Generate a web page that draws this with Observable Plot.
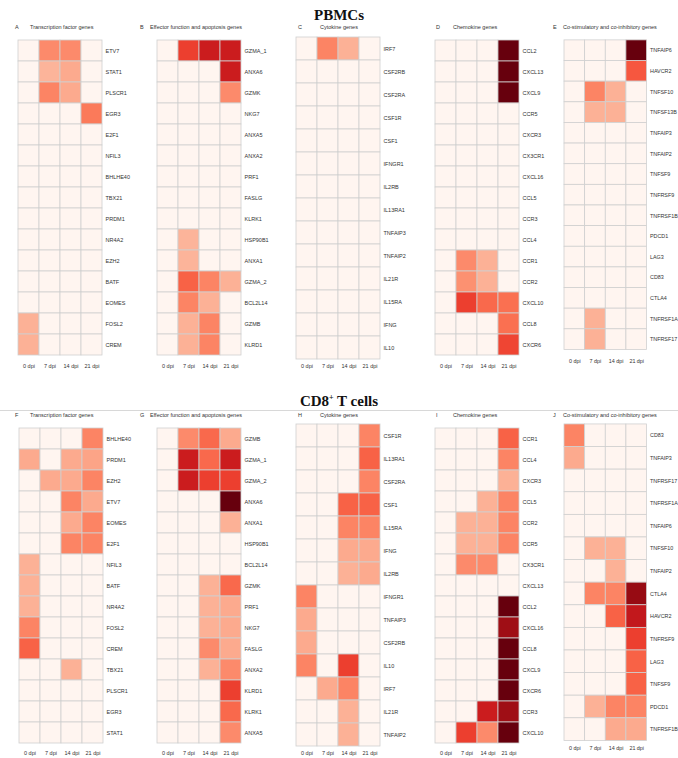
<!DOCTYPE html>
<html><head><meta charset="utf-8">
<script src="https://cdn.jsdelivr.net/npm/d3@7"></script>
<script src="https://cdn.jsdelivr.net/npm/@observablehq/plot@0.6"></script>
<style>
body{margin:0;background:#fff;}
#root{position:relative;width:678px;height:758px;font-family:"Liberation Sans",Arial,sans-serif;overflow:hidden;}
.title{position:absolute;left:0;width:678px;text-align:center;font-family:"Liberation Serif","Times New Roman",serif;font-weight:bold;font-size:15px;line-height:16px;color:#111;}
.hdr{position:absolute;font-size:5.5px;line-height:6px;color:#333;white-space:nowrap;}
.panel{position:absolute;}
.rule{position:absolute;left:0;width:678px;height:0;border-top:1px solid #d8d8d8;}
</style></head>
<body><div id="root"></div>
<script>
const days = ["0 dpi", "7 dpi", "14 dpi", "21 dpi"];

// ---- PBMCs ----
const genesA = ["ETV7","STAT1","PLSCR1","EGR3","E2F1","NFIL3","BHLHE40","TBX21","PRDM1","NR4A2","EZH2","BATF","EOMES","FOSL2","CREM"];
const valsA = [[0,.4,.4,0],[0,.27,.3,0],[0,.42,.3,0],[0,0,0,.45],[0,0,0,0],[0,0,0,0],[0,0,0,0],[0,0,0,0],[0,0,0,0],[0,0,0,0],[0,0,0,0],[0,0,0,0],[0,0,0,0],[.28,0,0,0],[.28,0,0,0]];

const genesB = ["GZMA_1","ANXA6","GZMK","NKG7","ANXA5","ANXA2","PRF1","FASLG","KLRK1","HSP90B1","ANXA1","GZMA_2","BCL2L14","GZMB","KLRD1"];
const valsB = [[0,.62,.75,.75],[0,0,0,.75],[0,0,0,.4],[0,0,0,0],[0,0,0,0],[0,0,0,0],[0,0,0,0],[0,0,0,0],[0,0,0,0],[0,.27,0,0],[0,.27,0,0],[0,.52,.42,.28],[0,.42,.28,0],[0,.28,.42,0],[0,.28,.42,0]];

const genesC = ["IRF7","CSF2RB","CSF2RA","CSF1R","CSF1","IFNGR1","IL2RB","IL13RA1","TNFAIP3","TNFAIP2","IL21R","IL15RA","IFNG","IL10"];
const valsC = [[0,.42,.28,0],[0,0,0,0],[0,0,0,0],[0,0,0,0],[0,0,0,0],[0,0,0,0],[0,0,0,0],[0,0,0,0],[0,0,0,0],[0,0,0,0],[0,0,0,0],[0,0,0,0],[0,0,0,0],[0,0,0,0]];

const genesD = ["CCL2","CXCL13","CXCL9","CCR5","CXCR3","CX3CR1","CXCL16","CCL5","CCR3","CCL4","CCR1","CCR2","CXCL10","CCL8","CXCR6"];
const valsD = [[0,0,0,1],[0,0,0,1],[0,0,0,1],[0,0,0,0],[0,0,0,0],[0,0,0,0],[0,0,0,0],[0,0,0,0],[0,0,0,0],[0,0,0,0],[0,.4,.28,0],[0,.38,.28,0],[0,.62,.5,.48],[0,0,0,.48],[0,0,0,.6]];

const genesE = ["TNFAIP6","HAVCR2","TNFSF10","TNFSF13B","TNFAIP3","TNFAIP2","TNFSF9","TNFRSF9","TNFRSF1B","PDCD1","LAG3","CD83","CTLA4","TNFRSF1A","TNFRSF17"];
const valsE = [[0,0,0,1],[0,0,0,.55],[0,.42,.28,0],[0,.28,.28,0],[0,0,0,0],[0,0,0,0],[0,0,0,0],[0,0,0,0],[0,0,0,0],[0,0,0,0],[0,0,0,0],[0,0,0,0],[0,0,0,0],[0,.28,0,0],[0,.28,0,0]];

// ---- CD8+ T cells ----
const genesF = ["BHLHE40","PRDM1","EZH2","ETV7","EOMES","E2F1","NFIL3","BATF","NR4A2","FOSL2","CREM","TBX21","PLSCR1","EGR3","STAT1"];
const valsF = [[0,0,0,.42],[.3,0,.3,.32],[0,.3,.3,.42],[0,0,.42,.3],[0,0,.3,.42],[0,0,.42,.42],[.28,0,0,0],[.28,0,0,0],[.28,0,0,0],[.42,0,0,0],[.52,0,0,0],[0,0,.28,0],[0,0,0,0],[0,0,0,0],[0,0,0,0]];

const genesG = ["GZMB","GZMA_1","GZMA_2","ANXA6","ANXA1","HSP90B1","BCL2L14","GZMK","PRF1","NKG7","FASLG","ANXA2","KLRD1","KLRK1","ANXA5"];
const valsG = [[0,.4,.5,.3],[0,.75,.5,.75],[0,.75,.62,.62],[0,0,0,1],[0,0,0,.28],[0,0,0,0],[0,0,0,0],[0,0,.28,.5],[0,0,.28,.3],[0,0,.28,.3],[0,0,.4,.3],[0,0,.28,.4],[0,0,0,.62],[0,0,0,.5],[0,0,0,.4]];

const genesH = ["CSF1R","IL13RA1","CSF2RA","CSF1","IL15RA","IFNG","IL2RB","IFNGR1","TNFAIP3","CSF2RB","IL10","IRF7","IL21R","TNFAIP2"];
const valsH = [[0,0,0,.42],[0,0,0,.52],[0,0,0,.42],[0,0,.52,.52],[0,0,.42,.42],[0,0,.3,.3],[0,0,.28,.3],[.42,0,0,0],[.3,0,0,0],[.3,0,0,0],[.42,0,.62,0],[0,.3,.42,0],[0,0,.28,0],[0,0,.28,0]];

const genesI = ["CCR1","CCL4","CXCR3","CCL5","CCR2","CCR5","CX3CR1","CXCL13","CCL2","CXCL16","CCL8","CXCL9","CXCR6","CCR3","CXCL10"];
const valsI = [[0,0,0,.52],[0,0,0,.42],[0,0,0,.28],[0,0,.28,.42],[0,.28,.28,.42],[0,.28,.28,.42],[0,.4,.4,0],[0,0,0,0],[0,0,0,1],[0,0,0,.88],[0,0,0,1],[0,0,0,1],[0,0,0,1],[0,0,.75,.88],[0,.62,.4,1]];

const genesJ = ["CD83","TNFAIP3","TNFRSF17","TNFRSF1A","TNFAIP6","TNFSF10","TNFAIP2","CTLA4","HAVCR2","TNFRSF9","LAG3","TNFSF9","PDCD1","TNFRSF1B"];
const valsJ = [[.42,0,0,0],[.3,0,0,0],[0,0,0,0],[0,0,0,0],[0,0,0,0],[0,.28,.28,0],[0,0,.28,0],[0,.42,.42,.9],[0,0,.52,.78],[0,0,0,.62],[0,0,0,.52],[0,0,0,.52],[0,.28,.42,.42],[0,0,.3,.3]];

const panels = [
  {id:"A", name:"Transcription factor genes", genes:genesA, vals:valsA, left:18, top:33, h:329, hl:15, ht:30, hy:24},
  {id:"B", name:"Effector function and apoptosis genes", genes:genesB, vals:valsB, left:157, top:33, h:329, hl:140, ht:150, hy:24},
  {id:"C", name:"Cytokine genes", genes:genesC, vals:valsC, left:296, top:33, h:329, hl:298, ht:320, hy:24},
  {id:"D", name:"Chemokine genes", genes:genesD, vals:valsD, left:435, top:33, h:329, hl:436, ht:453, hy:24},
  {id:"E", name:"Co-stimulatory and co-inhibitory genes", genes:genesE, vals:valsE, left:564, top:33, h:329, hl:553, ht:563, hy:24},
  {id:"F", name:"Transcription factor genes", genes:genesF, vals:valsF, left:19, top:421, h:328, hl:15, ht:30, hy:412},
  {id:"G", name:"Effector function and apoptosis genes", genes:genesG, vals:valsG, left:157, top:421, h:328, hl:140, ht:150, hy:412},
  {id:"H", name:"Cytokine genes", genes:genesH, vals:valsH, left:296, top:421, h:328, hl:298, ht:320, hy:412},
  {id:"I", name:"Chemokine genes", genes:genesI, vals:valsI, left:435, top:421, h:328, hl:436, ht:453, hy:412},
  {id:"J", name:"Co-stimulatory and co-inhibitory genes", genes:genesJ, vals:valsJ, left:564, top:421, h:328, hl:553, ht:563, hy:412}
];

const root = document.getElementById("root");
function addDiv(cls, text, styles) {
  const d = document.createElement("div");
  d.className = cls;
  d.innerHTML = text;
  Object.assign(d.style, styles);
  root.appendChild(d);
  return d;
}
addDiv("title", "PBMCs", {top: "7px"});
addDiv("title", "CD8<sup style=\"font-size:8px;vertical-align:6px;line-height:0\">+</sup> T cells", {top: "393px"});
addDiv("rule", "", {top: "410px"});

const cellW = 84, mr = 32, mb = 8;
for (const p of panels) {
  addDiv("hdr", p.id, {left: p.hl + "px", top: p.hy + "px"});
  addDiv("hdr", p.name, {left: p.ht + "px", top: p.hy + "px"});
  const data = [];
  p.genes.forEach((g, i) => days.forEach((d, j) => data.push({gene: g, day: d, v: p.vals[i][j]})));
  const svg = Plot.plot({
    width: cellW + mr,
    height: p.h + mb,
    marginLeft: 0, marginTop: 0, marginRight: mr, marginBottom: mb,
    x: {domain: days, padding: 0, axis: "bottom", tickSize: 0, tickPadding: 2, label: null},
    y: {domain: p.genes, padding: 0, axis: "right", tickSize: 0, tickPadding: 3, label: null},
    color: {type: "linear", scheme: "reds", domain: [0, 1]},
    marks: [
      Plot.cell(data, {x: "day", y: "gene", fill: "v", stroke: "#cfcfcf", strokeWidth: 0.8, inset: 0})
    ],
    style: {fontSize: "5.5px", fontFamily: "'Liberation Sans', Arial, sans-serif", color: "#333", background: "transparent", overflow: "visible"}
  });
  const wrap = document.createElement("div");
  wrap.className = "panel";
  wrap.style.left = p.left + "px";
  wrap.style.top = p.top + "px";
  wrap.appendChild(svg);
  root.appendChild(wrap);
}
</script>
</body></html>
